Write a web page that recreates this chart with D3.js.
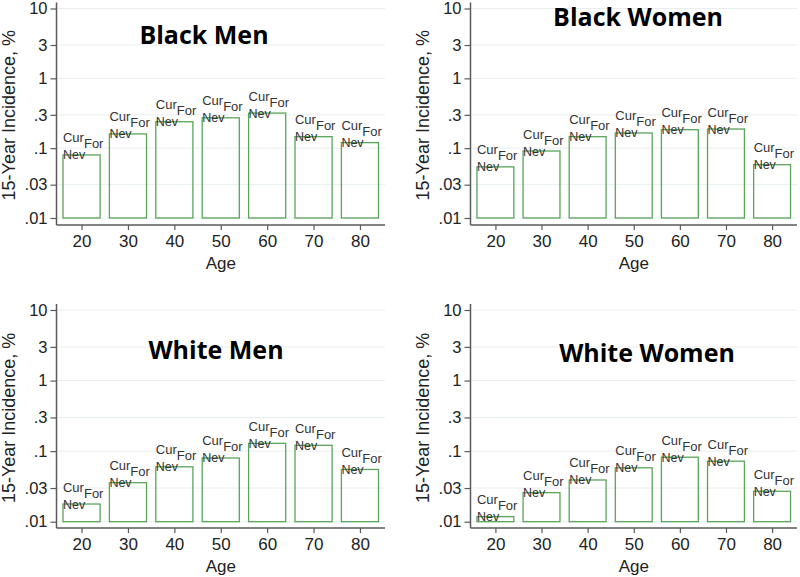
<!DOCTYPE html>
<html>
<head>
<meta charset="utf-8">
<script src="https://cdn.jsdelivr.net/npm/d3@7/dist/d3.min.js"></script>
<style>
  html, body { margin: 0; padding: 0; background: #fff; }
  svg { display: block; }
</style>
</head>
<body>
<svg id="chart" width="800" height="577"></svg>
<script>
const ages = [20, 30, 40, 50, 60, 70, 80];
const blackMen   = [0.080, 0.160, 0.239, 0.272, 0.318, 0.146, 0.120];
const blackWomen = [0.054, 0.091, 0.146, 0.165, 0.184, 0.188, 0.058];
const whiteMen   = [0.0178, 0.0357, 0.060, 0.080, 0.129, 0.121, 0.055];
const whiteWomen = [0.0118, 0.0258, 0.039, 0.058, 0.082, 0.072, 0.027];
const yTicks = [0.01, 0.03, 0.1, 0.3, 1, 3, 10];
const yTickLabels = [".01", ".03", ".1", ".3", "1", "3", "10"];
const panelTitles = ["Black Men", "Black Women", "White Men", "White Women"];
const barLabelTop = "Cur", barLabelSub = "For", barLabelBottom = "Nev";
const yTitle = "15-Year Incidence, %";
const xTitle = "Age";

const series = [blackMen, blackWomen, whiteMen, whiteWomen];

// layout (positions only)
const panels = [
  { x0: 56.5, x1: 385, yTop: 8.5, yBot: 218,   axisY: 225, tx: 204, ty: 43.5 },
  { x0: 470.5, x1: 797, yTop: 8.5, yBot: 218,   axisY: 225, tx: 638, ty: 26 },
  { x0: 56.5, x1: 385, yTop: 310, yBot: 521.7, axisY: 528, tx: 216, ty: 358.5 },
  { x0: 470.5, x1: 797, yTop: 310, yBot: 521.7, axisY: 528, tx: 647, ty: 362 }
];

const svg = d3.select("#chart");
const green = "#5aa55a";
const axisColor = "#5a5a5a";
const textColor = "#222";
const font = "Liberation Sans, Arial, sans-serif";

panels.forEach((p, i) => {
  const vals = series[i];
  const x = d3.scaleLinear().domain([14.6, 85.4]).range([p.x0, p.x1]);
  const y = d3.scaleLog().domain([0.01, 10]).range([p.yBot, p.yTop]);
  const g = svg.append("g");

  // gridlines
  g.selectAll("line.grid").data(yTicks).enter().append("line")
    .attr("x1", p.x0 + 1).attr("x2", p.x1)
    .attr("y1", d => y(d)).attr("y2", d => y(d))
    .attr("stroke", "#e8eeee").attr("stroke-width", 1);

  // bars
  g.selectAll("rect.bar").data(ages).enter().append("rect")
    .attr("x", d => x(d - 4))
    .attr("width", d => x(d + 4) - x(d - 4))
    .attr("y", (d, j) => y(vals[j]))
    .attr("height", (d, j) => y(0.01) - y(vals[j]))
    .attr("fill", "none")
    .attr("stroke", green).attr("stroke-width", 1.3);

  // bar labels
  ages.forEach((a, j) => {
    const bx = x(a - 4), by = y(vals[j]);
    const t = g.append("text")
      .attr("x", bx).attr("y", by - 12.5)
      .attr("font-family", font)
      .attr("font-size", 13).attr("fill", "#333");
    t.append("tspan").text(barLabelTop);
    t.append("tspan").attr("dy", 6).text(barLabelSub);
    g.append("text")
      .attr("x", bx).attr("y", by + 4.5)
      .attr("font-family", font)
      .attr("font-size", 12.5).attr("fill", "#333")
      .text(barLabelBottom);
  });

  // y axis
  const yAxis = d3.axisLeft(y).tickValues(yTicks)
    .tickFormat((d, k) => yTickLabels[k]).tickSize(6).tickPadding(3);
  const ya = g.append("g").attr("transform", `translate(${p.x0},0)`).call(yAxis);
  ya.select(".domain").remove();
  ya.selectAll(".tick line").attr("stroke", axisColor).attr("stroke-width", 1.2);
  ya.selectAll(".tick text").attr("fill", textColor)
    .attr("font-family", font).attr("font-size", 16.5);
  g.append("line").attr("x1", p.x0).attr("x2", p.x0)
    .attr("y1", p.yTop - 6).attr("y2", p.axisY)
    .attr("stroke", axisColor).attr("stroke-width", 1.5);

  // x axis
  const xAxis = d3.axisBottom(x).tickValues(ages).tickFormat(d3.format("d"))
    .tickSize(5).tickPadding(5);
  const xa = g.append("g").attr("transform", `translate(0,${p.axisY})`).call(xAxis);
  xa.select(".domain").remove();
  xa.selectAll(".tick line").attr("stroke", axisColor).attr("stroke-width", 1.2);
  xa.selectAll(".tick text").attr("fill", textColor)
    .attr("font-family", font).attr("font-size", 17);
  g.append("line").attr("x1", p.x0).attr("x2", p.x1)
    .attr("y1", p.axisY).attr("y2", p.axisY)
    .attr("stroke", axisColor).attr("stroke-width", 1.5);

  // axis titles
  g.append("text")
    .attr("x", (p.x0 + p.x1) / 2).attr("y", p.axisY + 44)
    .attr("text-anchor", "middle")
    .attr("font-family", font)
    .attr("font-size", 17).attr("fill", textColor).text(xTitle);
  g.append("text")
    .attr("transform", `translate(${p.x0 - 41.5},${(p.yTop + p.yBot) / 2 + 2}) rotate(-90)`)
    .attr("text-anchor", "middle")
    .attr("font-family", font)
    .attr("font-size", 18).attr("fill", textColor).text(yTitle);

  // panel title
  g.append("text")
    .attr("x", p.tx).attr("y", p.ty)
    .attr("text-anchor", "middle")
    .attr("font-family", "Open Sans, sans-serif").attr("font-weight", 700)
    .attr("font-size", 25).attr("fill", "#000").text(panelTitles[i]);
});
</script>
</body>
</html>
